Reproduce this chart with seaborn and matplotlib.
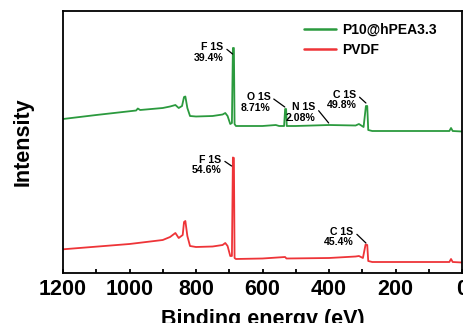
import matplotlib
matplotlib.use("Agg")
import matplotlib.pyplot as plt
import seaborn as sns
import pandas as pd

# ---- data (binding energy in eV, intensity in arbitrary units) ----
green_ev = [1200, 1100, 980, 975, 968, 900, 878, 862, 852, 842, 836, 832, 826, 818,
            800, 750, 720, 712, 705, 697, 692, 689, 686, 684, 680, 600, 560, 550,
            535, 532, 529, 527, 500, 400, 320, 310, 296, 289, 285, 282, 270, 100,
            38, 33, 28, 0]
green_int = [154, 158, 162.5, 164.5, 163, 165, 166.5, 168, 165, 167, 176, 176.5, 165, 157,
             156.5, 157, 158.5, 160, 157, 149, 150, 225, 225, 149, 147, 147, 148, 147,
             147, 164, 164, 147, 147, 148, 147.5, 149, 146, 167, 167, 143, 142, 142,
             142, 145, 142, 141.5]

red_ev = [1200, 1000, 900, 878, 862, 852, 840, 836, 832, 826, 818, 800, 750, 720,
          712, 705, 697, 692, 689, 686, 684, 680, 600, 532, 528, 400, 320, 310, 298,
          290, 285, 282, 270, 100, 38, 33, 28, 0]
red_int = [23.7, 29, 33, 36, 40, 35, 38, 51, 52, 37, 27, 26, 26.5, 28,
           30, 27, 17, 17, 115.5, 115, 15, 14, 14.5, 16, 14.5, 15, 16.5, 17, 15,
           28.5, 28, 12, 11, 11, 11, 14, 11, 10.5]

series_names = ["P10@hPEA3.3", "PVDF"]
series_colors = ["#2b9a3e", "#ee3438"]

# annotations: (label, percentage, text x(eV), text y, arrow tip x(eV), tip y)
ann_labels = ["F 1S", "O 1S", "N 1S", "C 1S", "F 1S", "C 1S"]
ann_pcts = ["39.4%", "8.71%", "2.08%", "49.8%", "54.6%", "45.4%"]
ann_text_ev = [717, 576, 441, 318, 723, 326]
ann_text_y = [220.5, 170.5, 160.5, 173, 108, 36]
ann_tip_ev = [690, 533, 401, 289, 693, 289]
ann_tip_y = [219, 166, 150, 170, 107, 30]

x_ticks = [1200, 1000, 800, 600, 400, 200, 0]

df = pd.concat([
    pd.DataFrame({"ev": green_ev, "intensity": green_int, "sample": series_names[0]}),
    pd.DataFrame({"ev": red_ev, "intensity": red_int, "sample": series_names[1]}),
])

sns.set_theme(style="ticks")
plt.rcParams["font.family"] = ["Liberation Sans", "DejaVu Sans"]
plt.rcParams["font.weight"] = "bold"
plt.rcParams["text.color"] = "black"
plt.rcParams["axes.labelcolor"] = "black"
plt.rcParams["xtick.color"] = "black"
plt.rcParams["ytick.color"] = "black"

fig = plt.figure(figsize=(4.63, 3.23), dpi=100)
ax = fig.add_axes([63 / 463, 50 / 323, 399 / 463, 262 / 323])

sns.lineplot(data=df, x="ev", y="intensity", hue="sample", palette=series_colors,
             sort=False, estimator=None, linewidth=1.3, ax=ax)

ax.set_xlim(1200, 0)
ax.set_ylim(0, 262)
ax.set_xticks(x_ticks)
ax.set_xticks(range(1100, 0, -200), minor=True)
ax.set_yticks([])
ax.tick_params(axis="x", which="major", direction="in", length=3, width=1.3,
               labelsize=15.5, pad=4, top=False)
ax.tick_params(axis="x", which="minor", direction="in", length=3, width=1.3, top=False)
for lab in ax.get_xticklabels():
    lab.set_fontweight("bold")
for s in ax.spines.values():
    s.set_linewidth(1.3)
    s.set_color("black")

ax.set_xlabel("Binding energy (eV)", fontsize=15.5, fontweight="bold", labelpad=7)
ax.set_ylabel("Intensity", fontsize=15.5, fontweight="bold", labelpad=21)

for lab, pct, tx, ty, px, py in zip(ann_labels, ann_pcts, ann_text_ev, ann_text_y,
                                    ann_tip_ev, ann_tip_y):
    ax.annotate(f"{lab}\n{pct}", xy=(px, py), xytext=(tx, ty), textcoords="data",
                fontsize=7.6, fontweight="bold", ha="right", va="center",
                multialignment="right", linespacing=1.1,
                arrowprops=dict(arrowstyle="-", color="black", lw=0.9,
                                shrinkA=0, shrinkB=0, relpos=(1.0, 0.78)))

leg = ax.legend(loc="upper right", bbox_to_anchor=(0.9675, 1.004), frameon=False,
                fontsize=10, handlelength=2.3, handletextpad=0.4, labelspacing=0.45)
for t in leg.get_texts():
    t.set_fontweight("bold")
for h in leg.get_lines():
    h.set_linewidth(1.8)

fig.savefig("out.png", dpi=100)
